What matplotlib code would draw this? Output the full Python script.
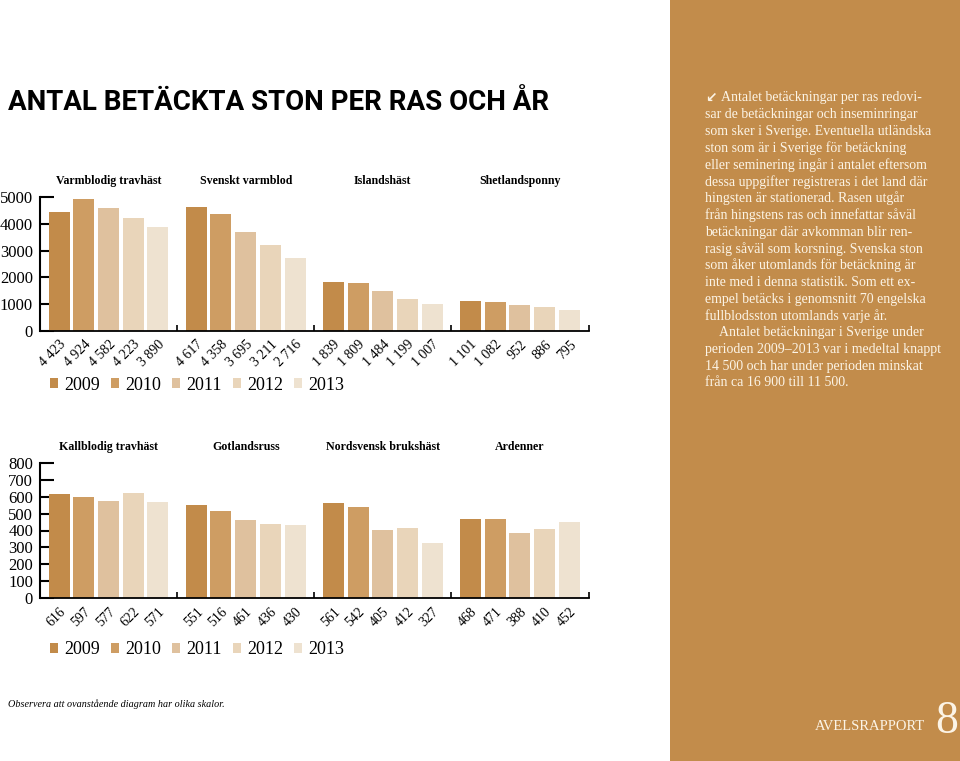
import numpy as np
import matplotlib
matplotlib.use("Agg")
from matplotlib import pyplot as plt
from matplotlib import transforms
from matplotlib.patches import Patch, Rectangle

years = ["2009", "2010", "2011", "2012", "2013"]
colors = ["#C28B4A", "#CE9D63", "#DFC19E", "#E9D5BA", "#EEE2D0"]

top_breeds = ["Varmblodig travhäst", "Svenskt varmblod", "Islandshäst", "Shetlandsponny"]
top_values = [
    [4423, 4924, 4582, 4223, 3890],
    [4617, 4358, 3695, 3211, 2716],
    [1839, 1809, 1484, 1199, 1007],
    [1101, 1082, 952, 886, 795],
]

bottom_breeds = ["Kallblodig travhäst", "Gotlandsruss", "Nordsvensk brukshäst", "Ardenner"]
bottom_values = [
    [616, 597, 577, 622, 571],
    [551, 516, 461, 436, 430],
    [561, 542, 405, 412, 327],
    [468, 471, 388, 410, 452],
]

panel_lines = [
    "Antalet betäckningar per ras redovi-",
    "sar de betäckningar och inseminringar",
    "som sker i Sverige. Eventuella utländska",
    "ston som är i Sverige för betäckning",
    "eller seminering ingår i antalet eftersom",
    "dessa uppgifter registreras i det land där",
    "hingsten är stationerad. Rasen utgår",
    "från hingstens ras och innefattar såväl",
    "betäckningar där avkomman blir ren-",
    "rasig såväl som korsning. Svenska ston",
    "som åker utomlands för betäckning är",
    "inte med i denna statistik. Som ett ex-",
    "empel betäcks i genomsnitt 70 engelska",
    "fullblodsston utomlands varje år.",
    "Antalet betäckningar i Sverige under",
    "perioden 2009–2013 var i medeltal knappt",
    "14 500 och har under perioden minskat",
    "från ca 16 900 till 11 500.",
]

SERIF = "Liberation Serif"
BROWN = "#C28C4B"
PANEL_TEXT = "#FCF4E6"

fig = plt.figure(figsize=(9.6, 7.61), dpi=100)
W, H = 960, 761


def px_axes(x0, y_top, x1, y_bot):
    return fig.add_axes([x0 / W, (H - y_bot) / H, (x1 - x0) / W, (y_bot - y_top) / H])


def bar_chart(ax, breeds, values, ymax, ystep, legend_y):
    pitch = 5.55
    for g, vals in enumerate(values):
        xs = g * pitch + np.arange(len(vals))
        ax.bar(xs, vals, width=0.85, color=colors, zorder=2)
        ax.annotate(breeds[g], xy=(g * pitch + 2, 1), xycoords=("data", "axes fraction"),
                    xytext=(0, 11.5), textcoords="offset points", ha="center", va="center",
                    fontsize=8.6, fontweight="bold", family=SERIF)
    centers = [g * pitch + j for g in range(len(values)) for j in range(len(values[g]))]
    labels = [f"{v:,}".replace(",", " ") for vals in values for v in vals]
    ax.set_xticks(centers, labels)
    shift = transforms.ScaledTranslation(6 / 72, 0, fig.dpi_scale_trans)
    for lab in ax.get_xticklabels():
        lab.set_rotation(45)
        lab.set_ha("right")
        lab.set_va("top")
        lab.set_rotation_mode("anchor")
        lab.set_family(SERIF)
        lab.set_fontsize(10)
        lab.set_transform(lab.get_transform() + shift)
    bounds = [g * pitch + 4 + (pitch - 4) / 2 for g in range(len(values))]
    ax.set_xticks(bounds, minor=True)
    ax.tick_params(axis="x", which="major", length=0, pad=5)
    ax.tick_params(axis="x", which="minor", direction="in", length=4, width=1.2)
    ax.set_xlim(-(pitch - 4) / 2, bounds[-1])
    ax.set_ylim(0, ymax)
    ax.set_yticks(np.arange(0, ymax + 1, ystep))
    ax.tick_params(axis="y", direction="in", length=10, width=1.5, pad=5, labelsize=12)
    for lab in ax.get_yticklabels():
        lab.set_family(SERIF)
    ax.set_axisbelow(True)
    for s in ["top", "right"]:
        ax.spines[s].set_visible(False)
    ax.spines["left"].set_linewidth(1.5)
    ax.spines["bottom"].set_linewidth(1.3)
    handles = [Patch(facecolor=c, edgecolor="none", label=y) for c, y in zip(colors, years)]
    ax.legend(handles=handles, loc="center left", bbox_to_anchor=(0.018, legend_y), ncol=5,
              frameon=False, handlelength=0.45, handleheight=0.45, handletextpad=0.35,
              columnspacing=0.6, borderpad=0, borderaxespad=0,
              prop={"family": SERIF, "size": 13})


ax1 = px_axes(40, 197, 588.5, 331)
bar_chart(ax1, top_breeds, top_values, 5000, 1000, -0.405)

ax2 = px_axes(40, 463, 588.5, 598)
bar_chart(ax2, bottom_breeds, bottom_values, 800, 100, -0.385)

fig.text(8 / W, 1 - 102 / H, "ANTAL BETÄCKTA STON PER RAS OCH ÅR", ha="left", va="center",
         fontsize=20, fontweight="bold", family=["Roboto", "DejaVu Sans"])

fig.text(8 / W, 1 - 704 / H, "Observera att ovanstående diagram har olika skalor.",
         ha="left", va="center", fontsize=7.3, style="italic", family=SERIF)

# brown side panel
fig.patches.append(Rectangle((670 / W, 0), 290 / W, 1, transform=fig.transFigure,
                             facecolor=BROWN, edgecolor="none", zorder=0))
fig.text(705 / W, 1 - 98 / H, "↙", ha="left", va="center", fontsize=10, fontweight="bold",
         color=PANEL_TEXT, family="DejaVu Sans")
for i, line in enumerate(panel_lines):
    x = 705
    if i == 0:
        x = 721
    elif i == 14:
        x = 719
    fig.text(x / W, 1 - (98 + i * 16.76) / H, line, ha="left", va="center",
             fontsize=10, color=PANEL_TEXT, family=SERIF)

fig.text(925 / W, 1 - 727 / H, "AVELSRAPPORT", ha="right", va="center", fontsize=10.5,
         color=PANEL_TEXT, family=SERIF)
fig.text(958 / W, 1 - 722 / H, "8", ha="right", va="center", fontsize=33,
         color=PANEL_TEXT, family=SERIF)

fig.savefig("out.png", dpi=100)
